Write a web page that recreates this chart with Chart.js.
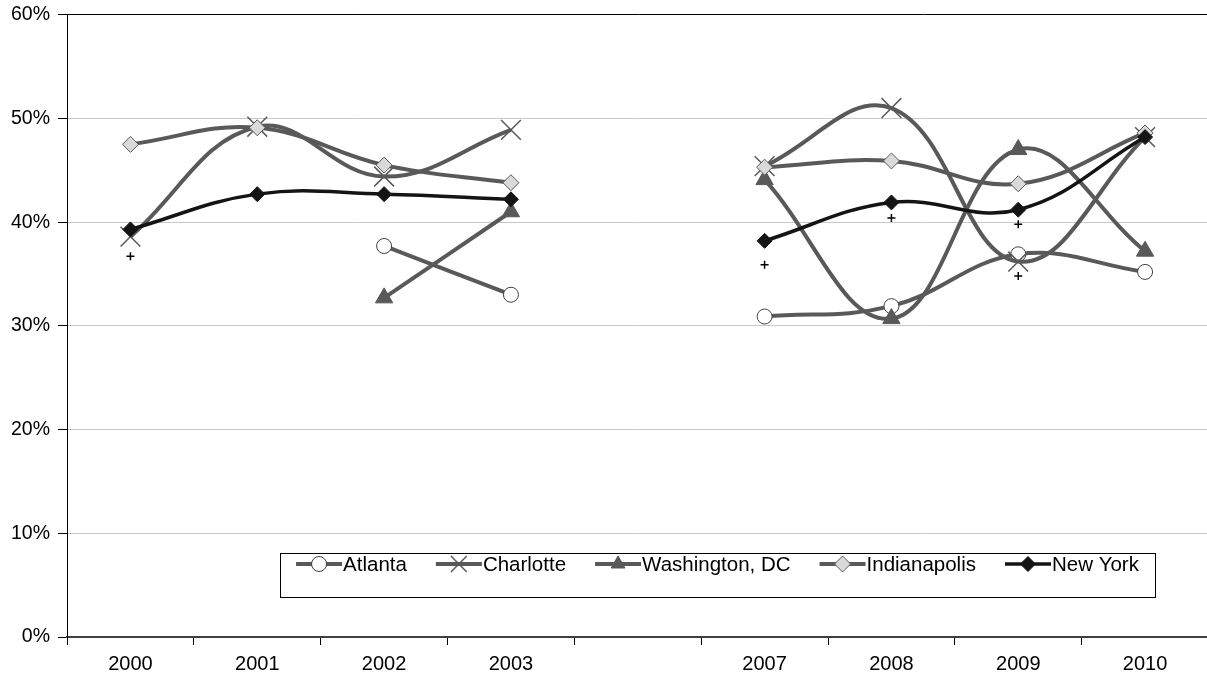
<!DOCTYPE html>
<html>
<head>
<meta charset="utf-8">
<script src="https://cdn.jsdelivr.net/npm/chart.js@4/dist/chart.umd.min.js"></script>
<style>
  html, body { margin: 0; padding: 0; background: #fff; overflow: hidden; }
  #wrap { width: 1224px; height: 688px; margin-top: -5px; position: relative; }
</style>
</head>
<body>
<div id="wrap"><canvas id="chart"></canvas></div>
<script>
// years on the category axis, with an empty slot between 2003 and 2007
const years = ["2000", "2001", "2002", "2003", "", "2007", "2008", "2009", "2010"];
const yTicks = [0, 10, 20, 30, 40, 50, 60];

// shares in percent
const atlanta      = [null, null, 37.7, 33.0, null, 30.9, 31.9, 36.9, 35.2];
const charlotte    = [38.6, 49.2, 44.4, 48.9, null, 45.4, 51.0, 36.2, 48.2];
const washington   = [null, null, 32.7, 41.0, null, 44.1, 30.7, 47.0, 37.2];
const indianapolis = [47.5, 49.1, 45.5, 43.8, null, 45.3, 45.9, 43.7, 48.6];
const newYork      = [39.3, 42.7, 42.7, 42.2, null, 38.2, 41.9, 41.2, 48.2];
// the small "+" marks
const plusA = [36.7, null, null, null, null, 35.9, 40.4, 39.8, null];
const plusB = [null, null, null, null, null, null, null, 34.8, null];

const seriesNames = ["Atlanta", "Charlotte", "Washington, DC", "Indianapolis", "New York"];

const GRAY = "#595959";
const FONT = "'Liberation Sans', Arial, sans-serif";

function cityLine(label, data, style, order) {
    return Object.assign({
        label: label,
        data: data,
        borderColor: GRAY,
        borderWidth: 4,
        tension: 0.4,
        spanGaps: false,
        order: order
    }, style);
}

let datasets = [
    cityLine(seriesNames[0], atlanta, {
        pointStyle: "circle", pointRadius: 7.5, pointBackgroundColor: "#fff",
        pointBorderColor: "#404040", pointBorderWidth: 1
    }, 5),
    cityLine(seriesNames[1], charlotte, {
        pointStyle: "crossRot", pointRadius: 14, pointBorderColor: GRAY,
        pointBorderWidth: 1.5
    }, 4),
    cityLine(seriesNames[2], washington, {
        pointStyle: "triangle", pointRadius: 10, pointBackgroundColor: GRAY,
        pointBorderColor: GRAY, pointBorderWidth: 1
    }, 3),
    cityLine(seriesNames[3], indianapolis, {
        pointStyle: "rectRot", pointRadius: 8, pointBackgroundColor: "#d9d9d9",
        pointBorderColor: GRAY, pointBorderWidth: 1
    }, 2),
    cityLine(seriesNames[4], newYork, {
        borderColor: "#141414", borderWidth: 3.5,
        pointStyle: "rectRot", pointRadius: 7.5, pointBackgroundColor: "#141414",
        pointBorderColor: "#141414", pointBorderWidth: 1
    }, 1),
    {
        label: "plusA", data: plusA, showLine: false, order: 0,
        pointStyle: "cross", pointRadius: 4, pointBorderColor: "#000", pointBorderWidth: 1.5
    },
    {
        label: "plusB", data: plusB, showLine: false, order: 0,
        pointStyle: "cross", pointRadius: 4, pointBorderColor: "#000", pointBorderWidth: 1.5
    }
];

// legend drawn as a boxed row inside the plot, like the original
const boxLegend = {
    id: "boxLegend",
    afterDraw(chart) {
        const ctx = chart.ctx;
        const box = { x: 280, y: 558, w: 875, h: 44 };  // +5 for the shifted canvas
        ctx.save();
        ctx.fillStyle = "#fff";
        ctx.fillRect(box.x, box.y, box.w, box.h);
        ctx.strokeStyle = "#000";
        ctx.lineWidth = 1;
        ctx.strokeRect(box.x + 0.5, box.y + 0.5, box.w, box.h);

        ctx.font = "20.5px " + FONT;
        const lineLen = 46, gap = 1, between = 29;
        let widths = seriesNames.map(n => ctx.measureText(n).width);
        let total = widths.reduce((a, b) => a + b, 0) + seriesNames.length * (lineLen + gap) + between * (seriesNames.length - 1);
        let x = box.x + (box.w - total) / 2;
        const cy = box.y + 11;
        seriesNames.forEach((name, i) => {
            const ds = chart.data.datasets[i];
            ctx.strokeStyle = ds.borderColor;
            ctx.lineWidth = ds.borderWidth;
            ctx.beginPath();
            ctx.moveTo(x, cy);
            ctx.lineTo(x + lineLen, cy);
            ctx.stroke();
            ctx.fillStyle = ds.pointBackgroundColor || "#fff";
            ctx.strokeStyle = ds.pointBorderColor;
            ctx.lineWidth = ds.pointBorderWidth;
            Chart.helpers.drawPoint(ctx, {
                pointStyle: ds.pointStyle,
                radius: ds.pointStyle === "crossRot" || ds.pointStyle === "triangle" ? ds.pointRadius * 0.8 : ds.pointRadius,
                borderWidth: ds.pointBorderWidth,
                rotation: 0
            }, x + lineLen / 2, cy);
            ctx.fillStyle = "#000";
            ctx.textBaseline = "middle";
            ctx.textAlign = "left";
            ctx.fillText(name, x + lineLen + gap, cy + 1);
            x += lineLen + gap + widths[i] + between;
        });
        ctx.restore();
    }
};

new Chart(document.getElementById("chart"), {
    type: "line",
    data: { labels: years, datasets: datasets },
    options: {
        responsive: true,
        maintainAspectRatio: false,
        animation: false,
        layout: { padding: { top: 9, left: 3, right: 1, bottom: 0 } },
        plugins: {
            legend: { display: false },
            tooltip: { enabled: false }
        },
        scales: {
            x: {
                offset: true,
                grid: { offset: true, drawOnChartArea: false, tickLength: 8, tickColor: "#000" },
                border: { color: "#404040", width: 2 },
                ticks: { color: "#000", font: { family: FONT, size: 20 }, padding: 7, maxRotation: 0, autoSkip: false }
            },
            y: {
                min: yTicks[0],
                max: yTicks[yTicks.length - 1],
                afterBuildTicks: axis => { axis.ticks = yTicks.map(v => ({ value: v })); },
                grid: {
                    color: c => c.tick && c.tick.value === 60 ? "#000" : "#c8c8c8",
                    tickLength: 9,
                    tickColor: "#000"
                },
                border: { color: "#000", width: 1 },
                ticks: {
                    color: "#000",
                    font: { family: FONT, size: 19.5 },
                    padding: 8,
                    callback: v => v + "%"
                }
            }
        }
    },
    plugins: [boxLegend]
});
</script>
</body>
</html>
